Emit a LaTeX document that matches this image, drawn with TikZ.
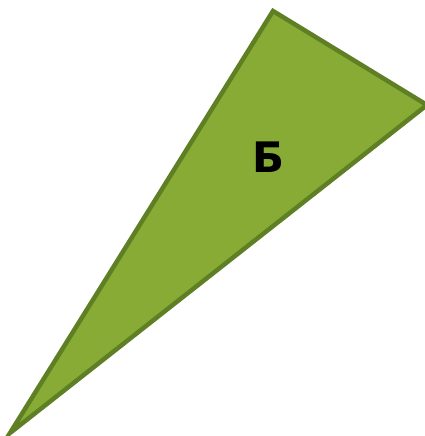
\documentclass[tikz,border=0pt]{standalone}
\usepackage{fontspec}
\setmainfont{DejaVu Sans}
\definecolor{trifill}{HTML}{87AB35}
\definecolor{triedge}{HTML}{5F7F24}
\begin{document}
\begin{tikzpicture}[x=1pt,y=1pt,
  tri/.style={fill=trifill,draw=triedge,line width=4.5pt,line join=miter},
  lbl/.style={font=\bfseries\fontsize{42}{42}\selectfont,text=black,inner sep=0pt}]
\useasboundingbox (0,0) rectangle (424,436);
\coordinate (t) at (273,425);
\coordinate (r) at (427,331);
\coordinate (b) at (10,3);
\draw[tri] (t) -- (r) -- (b) -- cycle;
\node[lbl] (l) at (269,279) {Б};
\end{tikzpicture}
\end{document}
